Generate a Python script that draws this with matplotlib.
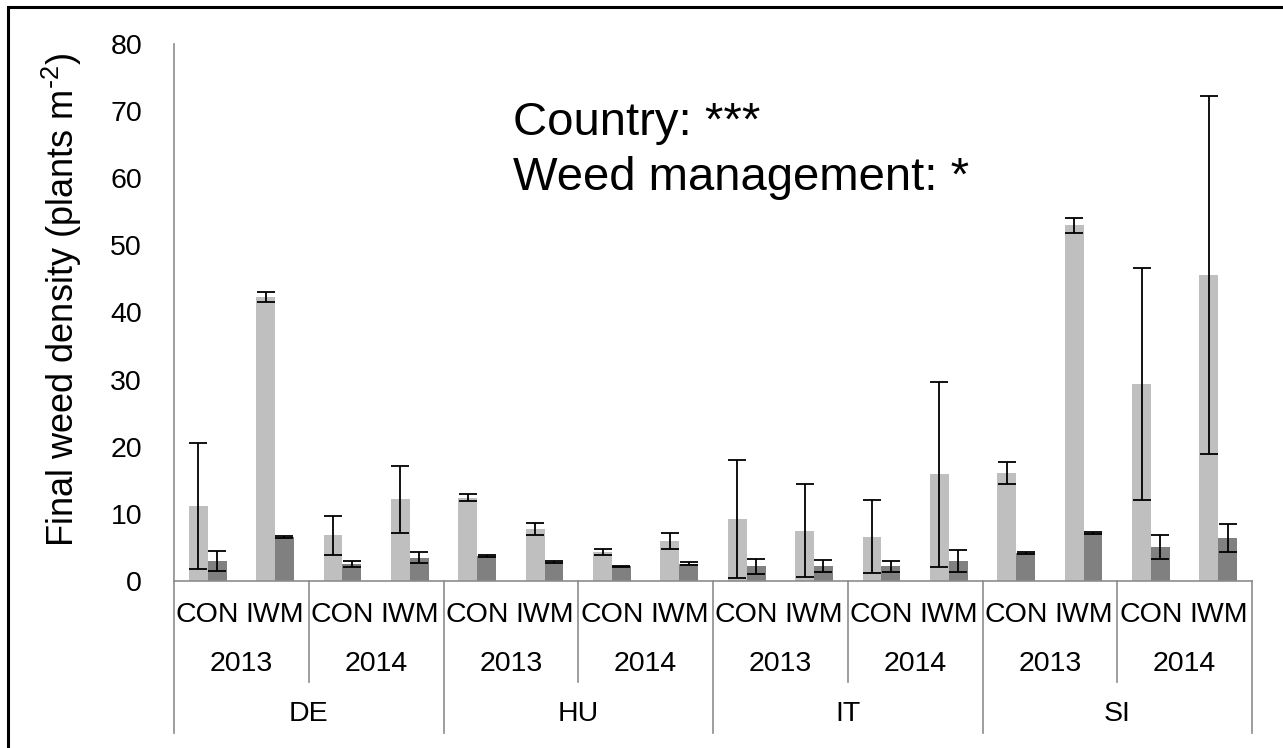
import matplotlib
matplotlib.use("Agg")
import matplotlib.pyplot as plt
import numpy as np
from matplotlib.patches import Rectangle
from matplotlib.transforms import blended_transform_factory

plt.rcParams['font.family'] = ['Liberation Sans', 'DejaVu Sans']
plt.rcParams['mathtext.default'] = 'regular'

countries = ["DE", "HU", "IT", "SI"]
years = ["2013", "2014"]
treatments = ["CON", "IWM"]

# one value per country x year x treatment, in that order
light = [11.2, 42.3, 6.8, 12.2, 12.4, 7.75, 4.3, 5.95, 9.2, 7.5, 6.6, 15.9, 16.05, 53.0, 29.4, 45.6]
light_err = [9.4, 0.8, 2.9, 5.0, 0.5, 0.85, 0.4, 1.25, 8.8, 6.9, 5.4, 13.8, 1.65, 1.1, 17.3, 26.7]
dark = [3.0, 6.6, 2.6, 3.5, 3.7, 2.9, 2.2, 2.6, 2.2, 2.2, 2.2, 3.0, 4.1, 7.2, 5.1, 6.4]
dark_err = [1.5, 0.15, 0.45, 0.75, 0.15, 0.15, 0.1, 0.2, 1.1, 0.9, 0.85, 1.6, 0.15, 0.15, 1.75, 2.05]

W, H = 1283, 748
fig = plt.figure(figsize=(W / 100, H / 100), dpi=100)
ax = fig.add_axes([174 / W, 1 - 581 / H, (1252 - 174) / W, (581 - 44) / H])

n = len(light)
x = np.arange(n)
bw = 0.28
ekw = dict(ecolor="black", elinewidth=1.3, capsize=6.5, capthick=1.3)
ax.bar(x - bw / 2, light, bw, color="#bfbfbf", yerr=light_err, error_kw=ekw, zorder=2)
ax.bar(x + bw / 2, dark, bw, color="#808080", yerr=dark_err, error_kw=ekw, zorder=2)

ax.set_xlim(-0.5, n - 0.5)
ax.set_ylim(0, 80)
ax.set_yticks(range(0, 81, 10))
ax.tick_params(axis="y", length=0, pad=23, labelsize=20.5)
ax.set_xticks([])
for s in ["top", "right"]:
    ax.spines[s].set_visible(False)
for s in ["left", "bottom"]:
    ax.spines[s].set_color("#8c8c8c")
    ax.spines[s].set_linewidth(1.2)

# multi-level category axis
tr = blended_transform_factory(ax.transData, ax.transAxes)
hpx = 581 - 44
def yf(px):
    return (581 - px) / hpx

for i in range(n):
    ax.text(i, yf(615), treatments[i % 2], transform=tr, ha="center", va="center", fontsize=20.5)
for j in range(n // 2):
    ax.text(2 * j + 0.5, yf(664), years[j % 2], transform=tr, ha="center", va="center", fontsize=20.5)
for k, c in enumerate(countries):
    ax.text(4 * k + 1.5, yf(714), c, transform=tr, ha="center", va="center", fontsize=20.5)

for j in range(n // 2 + 1):
    xb = 2 * j - 0.5
    bottom = yf(733) if j % 2 == 0 else yf(682)
    ax.plot([xb, xb], [0, bottom], transform=tr, color="#8c8c8c", lw=1.2, clip_on=False)

fig.text(62 / W, 1 - 300 / H, r"Final weed density (plants m$^{\text{-}2}$)", rotation=90,
         ha="center", va="center", fontsize=26)

fig.text(513 / W, 1 - 135 / H, "Country: ***", fontsize=34, va="baseline")
fig.text(513 / W, 1 - 190 / H, "Weed management: *", fontsize=34, va="baseline")

fig.patches.append(Rectangle((7.5 / W, -0.1), 1.2, 1 - 6.5 / H + 0.1, transform=fig.transFigure,
                             fill=False, edgecolor="black", linewidth=2.2))

fig.savefig("out.png", dpi=100)
